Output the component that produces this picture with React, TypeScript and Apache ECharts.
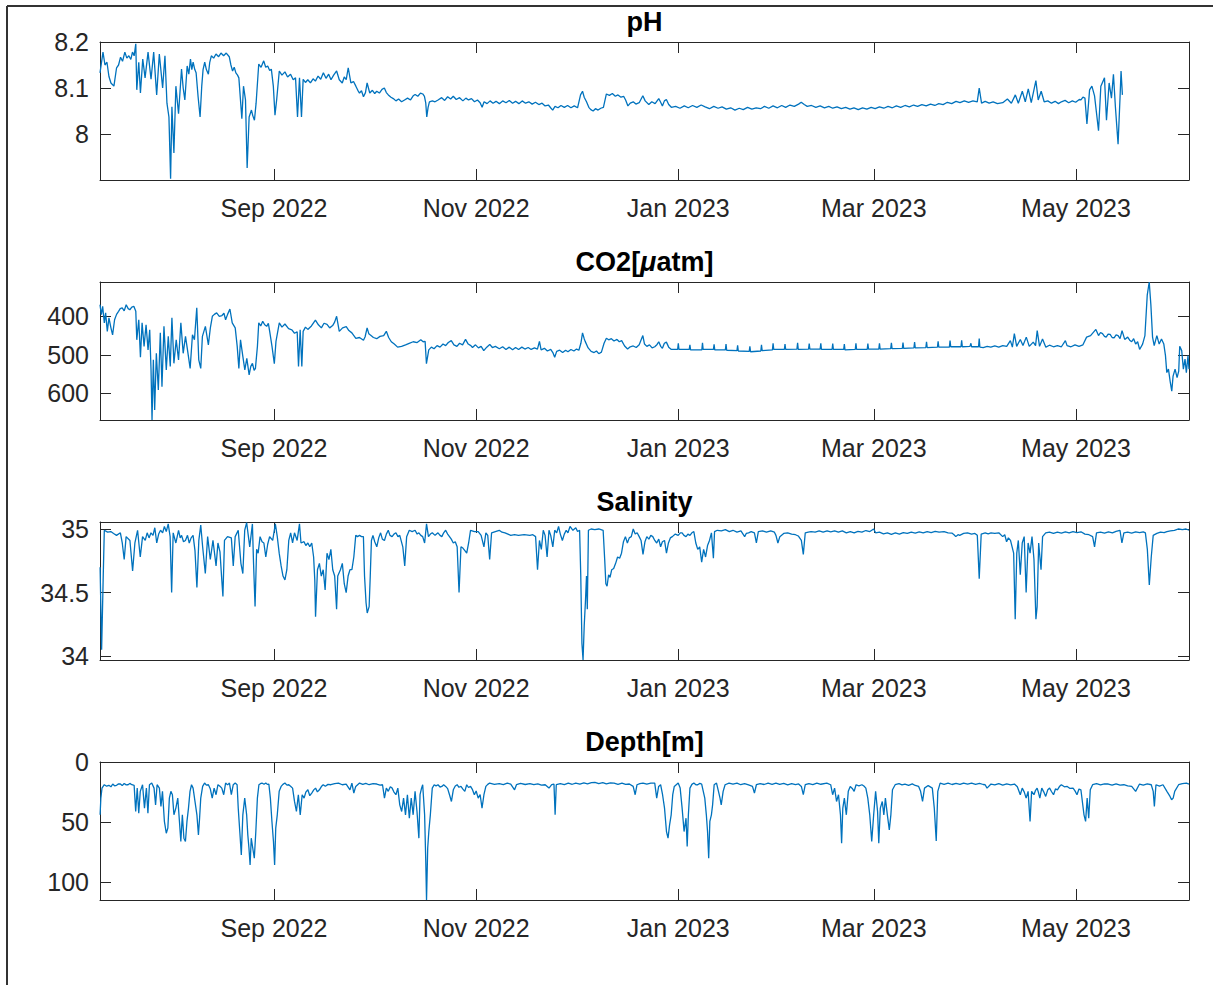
import React, { useEffect, useRef } from 'react';
import * as echarts from 'echarts';

// Time is stored as days elapsed since 2022-07-10 00:00 (deployment record)
const START_DATE = '2022-07-10';
const X_MIN = 0.5;
const X_MAX = 329.1;
const MONTH_TICKS = [53, 114, 175, 234, 295];
const MONTH_LABELS = ['Sep 2022', 'Nov 2022', 'Jan 2023', 'Mar 2023', 'May 2023'];

const TITLES = ['pH', 'CO2[μatm]', 'Salinity', 'Depth[m]'];

const PH_TICKS = [8, 8.1, 8.2];
const CO2_TICKS = [400, 500, 600];
const SAL_TICKS = [34, 34.5, 35];
const DEPTH_TICKS = [0, 50, 100];

const PH_RANGE: [number, number] = [7.9, 8.2];
const CO2_RANGE: [number, number] = [311, 669];
const SAL_RANGE: [number, number] = [33.97, 35.055];
const DEPTH_RANGE: [number, number] = [0, 114.7];

const phData: [number, number][] = [
  [0.5, 8.133], [1.4, 8.178], [2.0, 8.15], [2.6, 8.156], [3.2, 8.125], [3.8, 8.111], [4.7, 8.104], [5.5, 8.144], [6.1, 8.15],
  [6.7, 8.167], [7.3, 8.158], [8.0, 8.178], [8.6, 8.165], [9.2, 8.17], [9.8, 8.162], [10.3, 8.178], [10.8, 8.17], [11.3, 8.196],
  [11.6, 8.096], [12.2, 8.156], [12.7, 8.089], [13.4, 8.163], [14.1, 8.122], [15.0, 8.178], [15.9, 8.119], [16.7, 8.178],
  [17.6, 8.085], [18.4, 8.174], [19.4, 8.1], [20.1, 8.17], [20.7, 8.067], [21.3, 8.037], [21.8, 7.903], [22.2, 8.059],
  [22.8, 7.959], [23.4, 8.104], [24.2, 8.044], [25.1, 8.141], [25.6, 8.1], [26.1, 8.074], [26.8, 8.148], [27.3, 8.13],
  [27.8, 8.163], [28.2, 8.14], [28.6, 8.156], [29.1, 8.14], [29.5, 8.133], [30.1, 8.081], [30.7, 8.037], [31.2, 8.104],
  [31.6, 8.14], [32.1, 8.156], [32.6, 8.14], [33.2, 8.13], [33.6, 8.155], [34.1, 8.17], [34.8, 8.165], [35.5, 8.174],
  [36.3, 8.168], [37.0, 8.176], [37.8, 8.17], [38.6, 8.176], [39.5, 8.168], [40.0, 8.15], [40.5, 8.137], [41.0, 8.145],
  [41.5, 8.133], [42.0, 8.128], [42.4, 8.122], [43.3, 8.033], [43.8, 8.104], [44.4, 8.074], [44.9, 7.926], [45.5, 8.037],
  [46.2, 8.052], [46.6, 8.04], [47.1, 8.03], [47.6, 8.067], [48.4, 8.152], [49.1, 8.145], [49.9, 8.159], [50.5, 8.145],
  [51.1, 8.148], [51.7, 8.138], [52.2, 8.141], [52.8, 8.104], [53.3, 8.041], [53.8, 8.074], [54.6, 8.137], [55.4, 8.128],
  [56.3, 8.135], [57.1, 8.124], [58.0, 8.13], [58.8, 8.118], [59.5, 8.122], [60.1, 8.037], [60.7, 8.122], [61.3, 8.037],
  [61.8, 8.119], [62.5, 8.112], [63.2, 8.118], [64.0, 8.111], [64.8, 8.12], [65.5, 8.115], [66.3, 8.126], [67.1, 8.119],
  [67.9, 8.133], [68.7, 8.121], [69.5, 8.13], [70.2, 8.118], [71.0, 8.128], [71.9, 8.137], [72.7, 8.118], [73.6, 8.111],
  [74.2, 8.124], [74.8, 8.118], [75.4, 8.144], [76.2, 8.111], [77.0, 8.114], [77.7, 8.104], [78.3, 8.095], [78.8, 8.089],
  [79.4, 8.094], [80.0, 8.081], [80.6, 8.09], [81.1, 8.111], [81.5, 8.1], [81.9, 8.089], [82.7, 8.095], [83.4, 8.088],
  [84.0, 8.093], [84.8, 8.089], [85.6, 8.097], [86.3, 8.1], [86.9, 8.09], [87.5, 8.085], [88.3, 8.08], [89.0, 8.077],
  [89.8, 8.072], [90.6, 8.076], [91.5, 8.07], [92.4, 8.074], [93.3, 8.078], [94.2, 8.074], [95.0, 8.083], [95.6, 8.086],
  [96.4, 8.082], [97.2, 8.089], [97.9, 8.087], [98.4, 8.082], [98.8, 8.067], [99.1, 8.037], [99.5, 8.058], [99.9, 8.07],
  [100.8, 8.072], [101.6, 8.07], [102.5, 8.074], [103.6, 8.079], [104.5, 8.073], [105.4, 8.081], [106.3, 8.076], [107.1, 8.082],
  [108.0, 8.075], [109.0, 8.079], [110.0, 8.072], [110.9, 8.078], [111.7, 8.074], [112.6, 8.077], [113.5, 8.07], [114.4, 8.074],
  [115.2, 8.068], [115.8, 8.058], [116.4, 8.07], [117.3, 8.066], [118.2, 8.072], [119.1, 8.067], [120.0, 8.071], [121.0, 8.066],
  [122.0, 8.072], [123.0, 8.068], [124.0, 8.073], [125.0, 8.067], [125.9, 8.071], [126.9, 8.066], [127.9, 8.072], [128.9, 8.067],
  [129.9, 8.07], [130.9, 8.065], [131.9, 8.069], [132.9, 8.064], [133.9, 8.067], [134.8, 8.061], [135.8, 8.063], [136.6, 8.056],
  [137.1, 8.052], [137.8, 8.06], [138.7, 8.057], [139.6, 8.062], [140.6, 8.058], [141.6, 8.062], [142.6, 8.057], [143.6, 8.061],
  [144.6, 8.057], [145.5, 8.085], [146.1, 8.093], [146.6, 8.08], [147.3, 8.07], [148.0, 8.058], [148.6, 8.053], [149.3, 8.05],
  [150.0, 8.055], [150.8, 8.052], [151.6, 8.056], [152.4, 8.058], [153.3, 8.087], [154.2, 8.084], [155.1, 8.088], [156.0, 8.082],
  [156.8, 8.085], [157.7, 8.08], [158.5, 8.082], [159.1, 8.074], [159.8, 8.061], [160.5, 8.067], [161.4, 8.07], [162.2, 8.065],
  [163.2, 8.068], [164.3, 8.083], [165.0, 8.072], [166.1, 8.064], [167.0, 8.07], [168.0, 8.066], [169.1, 8.077], [169.6, 8.07],
  [170.2, 8.061], [170.8, 8.072], [171.4, 8.075], [172.1, 8.064], [172.9, 8.058], [174.2, 8.06], [175.5, 8.056], [176.8, 8.061],
  [178.0, 8.057], [179.3, 8.062], [180.6, 8.058], [181.9, 8.063], [183.1, 8.059], [184.4, 8.055], [185.7, 8.06], [187.0, 8.056],
  [188.2, 8.059], [189.5, 8.054], [190.8, 8.057], [192.1, 8.052], [193.4, 8.056], [194.6, 8.053], [195.9, 8.058], [197.2, 8.054],
  [198.5, 8.057], [199.8, 8.055], [201.0, 8.06], [202.3, 8.056], [203.6, 8.061], [204.9, 8.057], [206.2, 8.062], [207.4, 8.058],
  [208.7, 8.063], [210.0, 8.06], [211.3, 8.065], [212.1, 8.069], [213.0, 8.064], [213.9, 8.06], [215.2, 8.062], [216.5, 8.058],
  [217.8, 8.061], [219.1, 8.057], [220.4, 8.06], [221.6, 8.056], [222.9, 8.059], [224.2, 8.055], [225.5, 8.058], [226.8, 8.054],
  [228.0, 8.057], [229.3, 8.053], [230.6, 8.057], [231.9, 8.054], [233.2, 8.058], [234.4, 8.055], [235.7, 8.059], [237.0, 8.056],
  [238.3, 8.06], [239.6, 8.057], [240.8, 8.061], [242.1, 8.058], [243.4, 8.062], [244.7, 8.059], [246.0, 8.063], [247.2, 8.06],
  [248.5, 8.064], [249.8, 8.061], [251.1, 8.065], [252.4, 8.062], [253.6, 8.066], [254.9, 8.064], [256.2, 8.069], [257.5, 8.066],
  [258.8, 8.071], [260.0, 8.068], [261.3, 8.072], [262.6, 8.069], [263.9, 8.072], [265.2, 8.07], [265.8, 8.1], [266.5, 8.067],
  [267.6, 8.071], [268.8, 8.067], [270.0, 8.07], [271.3, 8.066], [272.9, 8.068], [274.3, 8.076], [275.5, 8.067], [276.7, 8.085],
  [277.6, 8.067], [278.8, 8.093], [279.7, 8.07], [280.6, 8.098], [281.5, 8.068], [282.9, 8.116], [283.6, 8.074], [284.5, 8.093],
  [285.4, 8.07], [286.5, 8.072], [287.6, 8.067], [288.7, 8.071], [289.7, 8.066], [290.6, 8.07], [291.7, 8.073], [292.8, 8.068],
  [293.9, 8.072], [294.9, 8.069], [296.0, 8.075], [296.5, 8.074], [297.1, 8.08], [297.7, 8.078], [298.3, 8.022], [299.1, 8.096],
  [299.8, 8.104], [300.6, 8.083], [301.8, 8.007], [302.5, 8.104], [303.6, 8.122], [304.2, 8.03], [305.0, 8.111], [305.7, 8.078],
  [306.3, 8.13], [306.9, 8.058], [307.7, 7.978], [308.3, 8.081], [308.6, 8.137], [309.0, 8.085],
];

const co2Data: [number, number][] = [
  [0.5, 370], [0.9, 396], [1.3, 374], [1.8, 417], [2.2, 391], [2.7, 439], [3.2, 404], [3.8, 430], [4.3, 448], [4.9, 409],
  [5.5, 395], [6.1, 387], [6.6, 380], [7.2, 378], [7.8, 386], [8.4, 370], [9.0, 380], [9.5, 383], [10.1, 376], [10.7, 374],
  [11.3, 387], [11.6, 461], [12.2, 409], [12.7, 506], [13.2, 417], [13.8, 478], [14.4, 422], [15.0, 487], [15.5, 435], [15.9, 539],
  [16.2, 669], [16.6, 513], [17.0, 643], [17.5, 496], [18.1, 591], [18.7, 443], [19.2, 583], [19.8, 426], [20.5, 539], [21.1, 452],
  [21.7, 530], [22.2, 404], [22.8, 522], [23.5, 461], [24.2, 513], [24.9, 417], [25.6, 496], [26.3, 452], [26.9, 487], [27.7, 535],
  [28.4, 448], [29.0, 461], [29.7, 378], [30.3, 513], [30.9, 535], [31.4, 452], [32.3, 426], [33.2, 474], [33.8, 430], [34.4, 400],
  [35.0, 395], [35.7, 391], [36.5, 400], [37.3, 398], [37.9, 392], [38.4, 409], [39.0, 395], [39.7, 381], [40.4, 417], [41.3, 430],
  [41.9, 478], [42.4, 535], [42.9, 461], [43.6, 504], [44.2, 539], [44.8, 509], [45.5, 552], [46.0, 530], [46.5, 522], [47.0, 540],
  [47.4, 535], [48.0, 478], [48.4, 417], [49.0, 425], [49.6, 413], [50.2, 422], [50.8, 426], [51.3, 418], [51.7, 439], [52.4, 478],
  [53.1, 523], [53.6, 465], [54.6, 417], [55.4, 428], [56.3, 420], [57.4, 432], [58.4, 435], [59.2, 444], [60.0, 440], [60.4, 530],
  [60.9, 435], [61.4, 530], [61.8, 439], [62.5, 428], [63.2, 434], [64.3, 425], [65.5, 410], [66.4, 422], [67.3, 430], [68.1, 418],
  [69.0, 421], [69.8, 430], [70.7, 424], [71.3, 415], [71.9, 400], [72.7, 439], [73.7, 430], [74.8, 427], [75.6, 437], [76.5, 443],
  [77.1, 450], [77.7, 457], [78.8, 455], [80.0, 462], [80.5, 453], [81.1, 430], [81.6, 445], [82.0, 448], [83.0, 455], [84.0, 458],
  [85.0, 452], [86.1, 450], [86.9, 439], [87.6, 455], [88.4, 466], [89.3, 472], [90.3, 480], [91.5, 478], [92.7, 474], [93.8, 470],
  [95.0, 466], [96.2, 468], [97.3, 461], [98.0, 466], [98.6, 465], [99.0, 523], [99.7, 487], [100.5, 480], [101.3, 484], [102.2, 476],
  [103.1, 480], [104.0, 472], [104.8, 476], [105.6, 468], [106.5, 463], [107.3, 474], [108.2, 478], [109.0, 470], [109.9, 474],
  [110.8, 460], [111.6, 472], [112.4, 476], [112.9, 481], [113.8, 474], [114.7, 482], [115.5, 478], [116.3, 489], [117.2, 480],
  [118.1, 473], [118.9, 481], [119.8, 478], [121.0, 484], [122.0, 479], [123.0, 486], [124.0, 480], [125.0, 487], [125.9, 481],
  [126.8, 486], [127.8, 480], [128.7, 485], [129.7, 481], [130.6, 486], [131.6, 482], [132.5, 485], [133.1, 465], [133.6, 487],
  [134.6, 483], [135.5, 490], [136.5, 486], [137.2, 495], [137.7, 506], [138.3, 491], [139.2, 488], [140.1, 494], [141.0, 488],
  [141.7, 492], [142.6, 486], [143.5, 490], [144.3, 485], [145.0, 488], [145.6, 470], [146.1, 443], [146.6, 458], [146.9, 465],
  [147.8, 482], [148.7, 491], [149.6, 494], [150.3, 490], [151.0, 497], [151.8, 493], [152.6, 470], [153.3, 457], [154.0, 461],
  [154.8, 458], [155.6, 464], [156.5, 460], [157.2, 466], [157.9, 463], [158.8, 477], [159.7, 485], [160.5, 479], [161.4, 477],
  [162.3, 481], [163.2, 474], [164.3, 450], [164.8, 472], [165.5, 478], [166.3, 474], [167.1, 482], [167.9, 479], [168.6, 473],
  [169.1, 466], [169.7, 478], [170.2, 483], [170.8, 470], [171.4, 467], [172.1, 480], [172.9, 486],
  [174.8, 486], [175.0, 470], [175.2, 486], [178.3, 486], [178.5, 474], [178.7, 487], [182.1, 487], [182.3, 469], [182.5, 486],
  [185.6, 486], [185.8, 473], [186.0, 487], [189.2, 487], [189.4, 472], [189.6, 488], [192.7, 489], [192.9, 475], [193.1, 490],
  [196.4, 491], [196.6, 478], [196.8, 492], [199.9, 490], [200.1, 474], [200.3, 489], [203.4, 487], [203.6, 470], [203.8, 486],
  [207.0, 486], [207.2, 472], [207.4, 486], [210.8, 485], [211.0, 469], [211.2, 486], [214.3, 485], [214.5, 471], [214.7, 485],
  [217.8, 485], [218.0, 470], [218.2, 486], [221.4, 486], [221.6, 471], [221.8, 486], [224.9, 486], [225.1, 472], [225.3, 487],
  [228.4, 486], [228.6, 470], [228.8, 486], [232.0, 486], [232.2, 471], [232.4, 485], [235.5, 485], [235.7, 470], [235.9, 485],
  [239.1, 484], [239.3, 469], [239.5, 484], [242.6, 483], [242.8, 468], [243.0, 483], [246.1, 482], [246.3, 467], [246.5, 482],
  [249.7, 481], [249.9, 466], [250.1, 481], [253.2, 480], [253.4, 465], [253.6, 480], [256.8, 480], [257.0, 463], [257.2, 479],
  [260.3, 479], [260.5, 462], [260.7, 479], [263.0, 478], [263.3, 470], [263.5, 479], [265.6, 479], [265.8, 458], [266.0, 480],
  [267.0, 481], [268.2, 478], [269.3, 480], [270.5, 477], [271.7, 480], [272.9, 476], [274.1, 478], [275.2, 463], [275.8, 480],
  [276.4, 445], [277.1, 478], [278.2, 460], [279.0, 476], [280.0, 454], [280.9, 478], [282.1, 467], [282.8, 476], [283.3, 437],
  [284.0, 478], [284.9, 459], [285.9, 480], [287.0, 475], [288.2, 479], [289.4, 476], [290.6, 479], [291.8, 463], [292.3, 476],
  [293.5, 479], [294.7, 474], [295.9, 478], [297.1, 474], [298.2, 454], [299.4, 450], [300.3, 441], [301.0, 434], [301.8, 450],
  [302.4, 442], [303.0, 445], [303.6, 452], [304.1, 454], [304.7, 446], [305.3, 447], [305.9, 455], [306.5, 456], [307.1, 448],
  [307.7, 450], [308.3, 458], [308.9, 437], [309.7, 460], [310.6, 454], [311.2, 462], [311.8, 466], [312.4, 458], [313.0, 472],
  [313.6, 466], [314.2, 486], [315.1, 472], [315.8, 450], [316.5, 345], [317.1, 311], [317.6, 371], [318.1, 454], [318.6, 476],
  [319.4, 450], [320.1, 472], [320.8, 459], [321.5, 472], [322.0, 502], [322.4, 546], [322.9, 537], [323.4, 568], [323.9, 594],
  [324.3, 555], [324.9, 537], [325.5, 559], [326.0, 542], [326.3, 478], [326.9, 489], [327.4, 537], [327.9, 511], [328.3, 546],
  [328.8, 502], [329.1, 537],
];

const salinityData: [number, number][] = [
  [0.53, 34.7], [0.99, 34.05], [1.45, 34.6], [1.8, 34.99], [2.8, 34.975], [3.76, 34.98], [4.6, 34.965], [5.49, 34.95], [6.65, 34.97],
  [7.22, 34.89], [7.8, 34.76], [8.38, 34.94], [9.53, 34.91], [10.34, 34.67], [11.03, 34.89], [11.84, 34.99], [12.65, 34.78],
  [13.34, 34.94], [14.15, 34.91], [14.73, 34.97], [15.3, 34.93], [15.88, 34.97], [16.5, 34.95], [17.04, 35.01], [17.62, 34.89],
  [18.2, 34.96], [18.77, 34.99], [19.4, 34.97], [19.93, 35.02], [20.5, 34.98], [21.08, 35.04], [21.66, 34.94], [22.12, 34.5],
  [22.58, 34.97], [23.39, 34.89], [24.2, 34.99], [24.7, 34.93], [25.12, 34.95], [25.7, 34.9], [26.28, 34.91], [26.9, 34.95],
  [27.43, 34.89], [28.0, 34.93], [28.59, 34.95], [29.16, 34.83], [29.74, 34.54], [30.32, 34.91], [30.9, 35.03], [31.47, 34.86],
  [32.28, 34.65], [32.98, 34.94], [33.78, 34.76], [34.59, 34.91], [35.52, 34.71], [36.09, 34.89], [36.7, 34.82], [37.25, 34.6],
  [37.59, 34.47], [38.06, 34.91], [38.98, 34.94], [40.13, 34.93], [40.71, 34.71], [41.29, 34.94], [42.21, 34.99], [43.02, 34.73],
  [43.6, 34.65], [44.17, 34.99], [44.75, 35.05], [45.68, 34.86], [46.49, 35.04], [46.83, 34.73], [47.29, 34.39], [47.76, 34.84],
  [48.22, 34.81], [48.8, 34.94], [49.4, 34.9], [49.95, 34.89], [50.53, 34.78], [51.1, 34.88], [51.68, 34.94], [52.61, 34.91],
  [53.41, 35.04], [53.99, 34.94], [54.57, 34.81], [55.15, 34.71], [55.72, 34.63], [56.3, 34.6], [56.88, 34.68], [57.46, 34.91],
  [58.03, 34.97], [58.61, 34.89], [59.19, 34.97], [59.99, 34.91], [60.69, 35.04], [61.15, 34.89], [62.07, 34.9], [62.6, 34.87],
  [63.23, 34.89], [63.8, 34.86], [64.39, 34.89], [64.96, 34.78], [65.31, 34.6], [65.54, 34.31], [66.12, 34.68], [66.7, 34.73],
  [67.27, 34.63], [67.85, 34.68], [68.43, 34.52], [69.0, 34.81], [69.58, 34.76], [70.16, 34.84], [70.73, 34.68], [71.31, 34.63],
  [71.89, 34.37], [72.24, 34.63], [73.05, 34.68], [73.62, 34.73], [74.2, 34.57], [74.78, 34.5], [75.36, 34.63], [75.93, 34.68],
  [76.51, 34.68], [77.09, 34.78], [77.67, 34.95], [78.2, 34.94], [78.82, 34.95], [79.4, 34.94], [79.98, 34.94], [80.32, 34.63],
  [80.78, 34.42], [81.13, 34.34], [81.71, 34.39], [82.05, 34.63], [82.4, 34.91], [82.86, 34.95], [83.4, 34.9], [84.02, 34.86],
  [84.6, 34.93], [85.17, 34.97], [85.7, 34.92], [86.33, 34.91], [86.9, 34.96], [87.48, 34.99], [88.0, 34.95], [88.64, 34.94],
  [89.2, 34.96], [89.79, 34.97], [90.4, 34.94], [90.95, 34.95], [91.87, 34.86], [92.45, 34.71], [93.03, 34.94], [93.83, 34.99],
  [94.7, 34.98], [95.57, 34.99], [96.2, 34.96], [96.72, 34.97], [97.3, 34.95], [97.87, 34.94], [98.45, 34.89], [99.03, 35.04],
  [99.61, 34.94], [100.2, 34.96], [100.76, 34.97], [101.6, 34.95], [102.49, 34.97], [103.1, 34.95], [103.65, 34.94], [104.2, 34.97],
  [104.8, 34.99], [105.4, 34.96], [105.96, 34.94], [106.5, 34.92], [107.11, 34.89], [107.7, 34.9], [108.27, 34.86], [108.84, 34.5],
  [109.42, 34.86], [110.0, 34.85], [110.6, 34.83], [111.15, 34.81], [111.73, 34.89], [112.31, 34.99], [113.5, 34.98], [114.62, 34.98],
  [115.5, 34.95], [116.35, 34.86], [116.93, 34.97], [117.5, 34.95], [118.08, 34.76], [118.66, 34.97], [119.8, 34.98], [120.97, 34.99],
  [121.8, 34.975], [122.7, 34.97], [123.6, 34.96], [124.43, 34.95], [125.6, 34.955], [126.75, 34.95], [128.5, 34.955], [130.21, 34.95],
  [131.1, 34.955], [131.94, 34.94], [132.52, 34.68], [133.1, 34.91], [133.67, 34.84], [134.25, 34.99], [134.8, 34.95], [135.41, 34.78],
  [135.98, 34.99], [136.5, 34.95], [137.14, 34.86], [137.71, 34.99], [138.3, 34.97], [138.87, 35.02], [139.4, 34.96], [140.02, 34.91],
  [140.6, 34.96], [141.18, 34.99], [141.7, 34.97], [142.33, 35.02], [143.2, 34.99], [144.07, 35.01], [144.6, 34.98], [145.22, 34.99],
  [145.57, 34.63], [145.92, 34.1], [146.26, 33.97], [146.61, 34.24], [146.96, 34.42], [147.3, 34.63], [147.54, 34.37], [147.88, 34.99],
  [148.69, 35.0], [149.8, 34.995], [151.0, 35.0], [152.32, 34.99], [152.79, 34.76], [153.14, 34.57], [153.5, 34.55], [153.97, 34.64],
  [154.4, 34.62], [154.91, 34.68], [155.5, 34.69], [156.09, 34.73], [156.68, 34.78], [157.3, 34.77], [157.86, 34.81], [158.45, 34.9],
  [159.04, 34.94], [159.63, 34.89], [160.2, 34.93], [160.81, 34.94], [161.4, 35.0], [162.0, 34.96], [162.58, 34.97], [163.2, 34.94],
  [163.76, 34.91], [164.35, 34.8], [164.94, 34.9], [165.5, 34.94], [166.12, 34.92], [166.7, 34.95], [167.3, 34.94], [167.9, 34.91],
  [168.48, 34.89], [169.1, 34.92], [169.66, 34.86], [170.2, 34.9], [170.84, 34.91], [171.43, 34.81], [172.02, 34.89], [172.6, 34.93],
  [173.2, 34.94], [174.1, 34.96], [174.97, 34.95], [175.6, 34.97], [176.15, 34.97], [176.7, 34.95], [177.33, 34.94], [177.9, 34.96],
  [178.51, 34.95], [179.1, 34.97], [179.69, 34.98], [180.28, 34.89], [180.87, 34.84], [181.46, 34.86], [182.05, 34.74], [182.64, 34.84],
  [183.23, 34.78], [183.82, 34.87], [184.41, 34.91], [185.0, 34.97], [185.59, 34.77], [185.94, 34.98], [186.77, 34.99], [188.0, 34.985],
  [189.2, 34.995], [190.4, 34.98], [191.49, 34.99], [192.7, 34.975], [193.9, 34.985], [195.02, 34.94], [195.5, 34.965], [196.2, 34.97],
  [197.0, 34.98], [197.97, 34.97], [198.56, 34.89], [199.15, 34.98], [200.4, 34.985], [201.6, 34.975], [202.9, 34.985], [204.0, 34.975],
  [204.46, 34.95], [205.05, 34.89], [205.64, 34.94], [206.8, 34.965], [208.0, 34.97], [209.2, 34.96], [210.36, 34.955], [211.2, 34.945],
  [212.13, 34.91], [212.72, 34.8], [213.31, 34.97], [214.2, 34.975], [215.08, 34.98], [216.3, 34.975], [217.5, 34.985], [218.7, 34.975],
  [219.9, 34.985], [221.0, 34.978], [222.16, 34.985], [223.3, 34.975], [224.5, 34.985], [225.7, 34.97], [226.9, 34.98], [228.06, 34.97],
  [229.2, 34.982], [230.4, 34.975], [231.6, 34.988], [232.8, 34.98], [233.95, 35.0], [234.54, 34.97], [235.7, 34.975], [236.9, 34.962],
  [238.1, 34.97], [239.3, 34.958], [240.5, 34.97], [241.7, 34.96], [242.9, 34.972], [244.1, 34.965], [245.3, 34.975], [246.5, 34.968],
  [247.7, 34.978], [248.9, 34.97], [250.1, 34.98], [251.3, 34.972], [252.5, 34.982], [253.7, 34.975], [255.19, 34.98], [256.4, 34.97],
  [257.55, 34.968], [258.2, 34.955], [258.73, 34.94], [259.4, 34.955], [259.91, 34.95], [261.1, 34.965], [262.27, 34.97], [263.5, 34.96],
  [264.5, 34.965], [265.22, 34.95], [265.8, 34.61], [266.4, 34.96], [267.6, 34.97], [268.5, 34.962], [269.35, 34.97], [270.5, 34.965],
  [271.71, 34.97], [272.88, 34.94], [273.5, 34.955], [274.06, 34.9], [274.6, 34.93], [275.24, 34.91], [276.19, 34.81], [276.66, 34.29],
  [277.13, 34.81], [277.6, 34.91], [278.19, 34.64], [278.78, 34.89], [279.37, 34.94], [279.96, 34.5], [280.55, 34.89], [281.14, 34.81],
  [281.73, 34.94], [282.32, 34.76], [282.91, 34.29], [283.27, 34.39], [283.74, 34.89], [284.45, 34.68], [284.92, 34.94], [285.86, 34.97],
  [287.0, 34.975], [288.2, 34.965], [289.4, 34.975], [290.6, 34.968], [291.8, 34.978], [292.94, 34.97], [294.1, 34.98], [295.3, 34.972],
  [296.5, 34.978], [297.7, 34.96], [298.9, 34.955], [300.02, 34.94], [300.6, 34.86], [301.19, 34.97], [302.4, 34.975], [303.6, 34.968],
  [304.8, 34.978], [306.0, 34.97], [307.1, 34.982], [308.27, 34.99], [308.86, 34.89], [309.45, 34.97], [310.6, 34.975], [311.8, 34.968],
  [313.0, 34.978], [314.2, 34.972], [315.3, 34.978], [315.94, 34.97], [316.53, 34.84], [317.12, 34.56], [317.71, 34.78], [318.3, 34.95],
  [319.4, 34.965], [320.5, 34.975], [321.6, 34.972], [322.43, 34.98], [323.5, 34.985], [324.7, 34.99], [325.97, 35.0], [327.1, 34.995],
  [328.2, 35.0], [329.1, 34.99],
];

const depthData: [number, number][] = [
  [0.53, 43.9], [0.76, 30.0], [1.1, 21.7], [1.8, 18.9], [2.5, 20.1], [3.18, 19.4], [3.8, 20.6], [4.34, 18.3], [4.9, 19.8],
  [5.49, 19.4], [6.1, 18.2], [6.65, 18.3], [7.2, 19.6], [7.8, 17.9], [8.4, 19.0], [8.96, 18.9], [9.5, 17.8], [10.11, 18.9],
  [10.8, 19.4], [11.27, 41.1], [11.73, 21.7], [12.19, 42.5], [12.65, 24.4], [13.34, 18.9], [13.92, 38.3], [14.5, 21.7],
  [14.96, 42.5], [15.42, 18.9], [16.11, 17.5], [16.81, 21.7], [17.27, 35.6], [17.73, 18.9], [18.42, 21.7], [18.89, 36.9],
  [19.35, 24.4], [19.93, 49.4], [20.5, 59.2], [20.97, 55.0], [21.43, 30.0], [21.89, 24.4], [22.35, 27.2], [22.81, 43.9],
  [23.39, 38.3], [23.97, 30.0], [24.54, 52.2], [24.89, 66.1], [25.35, 43.9], [25.82, 63.3], [26.28, 66.1], [26.74, 49.4],
  [27.2, 38.3], [27.66, 24.4], [28.12, 18.9], [28.59, 21.7], [29.16, 32.8], [29.74, 43.9], [30.2, 60.6], [30.55, 46.7],
  [30.9, 30.0], [31.47, 20.3], [32.05, 17.5], [32.6, 19.2], [33.21, 18.9], [33.8, 22.5], [34.36, 30.0], [34.94, 21.7],
  [35.52, 27.2], [36.09, 18.9], [36.7, 20.2], [37.25, 21.7], [37.83, 27.2], [38.4, 17.5], [39.0, 19.0], [39.56, 17.5],
  [40.13, 27.2], [40.71, 18.9], [41.29, 17.5], [41.87, 18.9], [42.21, 38.3], [42.68, 57.8], [43.14, 77.2], [43.6, 43.9],
  [44.17, 30.0], [44.75, 43.9], [45.1, 60.6], [45.45, 71.7], [45.79, 85.6], [46.14, 63.3], [46.6, 71.7], [47.06, 80.0],
  [47.52, 57.8], [47.99, 30.0], [48.45, 18.9], [48.9, 18.0], [49.37, 17.5], [50.0, 18.5], [50.53, 17.5], [51.0, 18.6],
  [51.45, 18.3], [51.91, 30.0], [52.38, 49.4], [52.84, 66.1], [53.19, 85.6], [53.53, 55.0], [53.99, 43.9], [54.57, 24.4],
  [55.15, 20.3], [55.7, 18.6], [56.3, 17.5], [56.9, 19.2], [57.46, 18.9], [58.0, 20.1], [58.61, 21.7], [59.19, 32.8],
  [59.77, 41.1], [60.35, 27.2], [60.92, 43.9], [61.5, 27.2], [62.08, 30.0], [62.6, 25.1], [63.23, 23.1], [63.8, 28.0],
  [64.39, 25.8], [65.0, 23.2], [65.54, 21.7], [66.1, 24.8], [66.7, 23.1], [67.3, 20.4], [67.85, 18.9], [68.5, 20.2],
  [69.3, 18.6], [70.16, 18.9], [71.3, 18.0], [72.47, 17.5], [73.6, 18.9], [74.78, 18.3], [75.93, 23.1], [76.51, 17.5],
  [77.09, 25.8], [77.67, 20.3], [78.82, 17.5], [79.8, 18.6], [80.7, 17.8], [81.71, 18.9], [82.9, 18.0], [84.02, 18.3],
  [85.0, 19.2], [85.75, 18.9], [86.33, 30.0], [86.9, 21.7], [87.48, 24.4], [88.1, 20.5], [88.64, 21.7], [89.2, 25.0],
  [89.79, 27.2], [90.37, 21.7], [90.95, 35.6], [91.53, 41.1], [92.1, 30.0], [92.68, 43.9], [93.26, 27.2], [93.84, 46.7],
  [94.41, 30.0], [94.99, 43.9], [95.57, 24.4], [96.15, 41.1], [96.72, 63.3], [97.07, 27.2], [97.53, 21.7], [97.87, 18.9],
  [98.45, 43.9], [98.8, 82.8], [99.03, 114.7], [99.38, 71.7], [99.72, 57.8], [100.18, 43.9], [100.76, 21.7], [101.34, 18.9],
  [101.9, 19.8], [102.49, 18.9], [103.1, 20.8], [103.65, 20.3], [104.2, 19.0], [104.8, 20.3], [105.4, 22.1], [105.96, 27.2],
  [106.54, 32.8], [107.11, 23.1], [107.7, 20.0], [108.27, 18.9], [108.8, 21.0], [109.42, 20.3], [110.0, 22.6], [110.58, 24.4],
  [111.15, 18.9], [111.7, 21.2], [112.31, 20.3], [112.9, 23.0], [113.46, 27.2], [114.0, 24.1], [114.62, 30.0], [115.2, 27.0],
  [115.77, 38.3], [116.35, 27.2], [116.93, 20.3], [117.5, 18.6], [118.08, 17.5], [119.5, 18.6], [120.97, 17.9], [122.2, 18.8],
  [123.4, 17.6], [124.43, 18.3], [125.59, 23.1], [126.17, 18.9], [127.4, 17.8], [128.8, 18.7], [130.21, 17.9], [131.4, 18.9],
  [132.6, 18.1], [133.7, 19.2], [134.83, 18.9], [135.98, 21.7], [136.8, 18.8], [137.48, 18.3], [137.83, 43.9], [138.18, 18.9],
  [139.4, 18.0], [140.6, 18.8], [141.8, 17.6], [143.0, 18.5], [144.07, 17.5], [145.3, 18.4], [146.5, 17.4], [147.6, 18.2],
  [148.8, 17.2], [149.84, 16.9], [151.0, 18.0], [152.2, 17.1], [153.3, 18.2], [154.5, 17.3], [155.62, 17.5], [156.8, 18.5],
  [158.0, 17.6], [159.1, 18.6], [160.23, 18.3], [161.38, 20.3], [161.99, 27.2], [162.54, 18.9], [163.4, 18.0], [164.35, 17.5],
  [165.5, 18.4], [166.7, 17.6], [167.89, 17.5], [168.48, 30.0], [169.07, 20.3], [169.66, 18.9], [170.25, 27.2], [170.84, 38.3],
  [171.43, 57.8], [171.9, 63.3], [172.37, 52.2], [172.85, 43.9], [173.32, 27.2], [173.79, 20.3], [174.38, 18.9], [174.97, 17.5],
  [175.56, 21.7], [176.15, 38.3], [176.74, 57.8], [177.33, 46.7], [177.68, 70.3], [178.04, 43.9], [178.51, 21.7], [179.1, 18.6],
  [179.69, 17.5], [180.3, 19.0], [180.87, 18.9], [181.5, 17.8], [182.05, 18.3], [182.99, 30.0], [183.46, 43.9], [183.82, 57.8],
  [184.17, 80.0], [184.52, 49.4], [184.99, 43.9], [185.35, 35.6], [185.82, 18.9], [186.53, 17.5], [187.12, 24.4], [187.59, 30.0],
  [187.95, 35.6], [188.53, 24.4], [189.12, 18.9], [190.31, 17.5], [191.5, 18.4], [192.7, 17.6], [193.84, 18.9], [195.0, 18.0],
  [196.2, 19.1], [197.38, 20.3], [197.97, 25.8], [198.56, 18.9], [199.7, 17.9], [200.9, 18.7], [202.1, 17.6], [203.3, 18.5],
  [204.46, 17.5], [205.6, 18.6], [206.8, 17.8], [208.0, 19.0], [209.2, 18.0], [210.36, 18.9], [211.3, 18.2], [212.13, 20.3],
  [212.72, 27.2], [213.31, 18.9], [214.4, 17.9], [215.6, 18.8], [216.8, 17.6], [218.0, 18.5], [219.8, 17.5], [220.98, 18.9],
  [221.57, 27.2], [222.16, 21.7], [222.75, 32.8], [223.34, 27.2], [223.93, 43.9], [224.28, 67.5], [224.64, 38.3], [225.11, 30.0],
  [225.7, 43.9], [226.29, 24.4], [226.88, 20.3], [227.5, 22.0], [228.06, 24.4], [228.64, 18.9], [229.5, 19.8], [230.41, 18.9],
  [231.0, 20.0], [231.59, 21.7], [232.18, 30.0], [232.77, 43.9], [233.36, 66.1], [233.95, 43.9], [234.54, 24.4], [235.13, 41.1],
  [235.49, 67.5], [235.96, 38.3], [236.55, 32.8], [237.02, 43.9], [237.49, 30.0], [238.08, 43.9], [238.67, 56.4], [239.14, 43.9],
  [239.62, 23.1], [240.44, 18.9], [241.6, 18.0], [242.5, 19.0], [243.39, 18.3], [244.5, 19.4], [245.6, 18.2], [246.5, 19.5],
  [247.52, 20.3], [248.11, 24.4], [248.7, 32.8], [249.29, 21.7], [250.4, 19.6], [251.65, 21.7], [252.24, 38.3], [252.83, 65.6],
  [253.3, 24.4], [254.01, 17.5], [255.2, 18.5], [256.4, 17.6], [257.6, 18.7], [258.8, 17.8], [260.0, 18.6], [261.09, 17.5],
  [262.3, 18.4], [263.5, 17.5], [264.7, 18.6], [265.9, 17.8], [267.0, 18.7], [267.58, 18.9], [268.16, 21.7], [269.35, 18.3],
  [270.5, 19.1], [271.7, 18.0], [272.9, 19.2], [274.1, 18.2], [275.3, 19.0], [276.43, 18.3], [277.3, 20.5], [278.19, 27.2],
  [278.78, 21.7], [279.4, 25.0], [279.96, 30.0], [280.55, 24.4], [281.14, 49.4], [281.61, 24.4], [282.32, 27.2], [282.8, 23.5],
  [283.27, 21.7], [283.7, 25.6], [284.09, 30.0], [284.68, 21.7], [285.3, 25.0], [285.86, 28.6], [286.5, 23.0], [287.04, 21.7],
  [287.6, 24.5], [288.22, 27.2], [288.8, 22.4], [289.4, 23.1], [290.0, 20.4], [290.58, 18.9], [291.5, 20.6], [292.35, 20.3],
  [293.2, 22.0], [294.12, 21.7], [294.7, 24.0], [295.3, 27.2], [295.9, 22.5], [296.48, 23.1], [297.42, 43.9], [297.9, 49.4],
  [298.37, 30.0], [298.84, 46.7], [299.31, 23.1], [300.02, 18.9], [301.2, 18.0], [302.4, 19.0], [303.6, 18.1], [304.74, 18.3],
  [305.9, 19.3], [307.1, 18.2], [308.3, 19.2], [309.45, 18.9], [310.6, 19.8], [311.81, 20.3], [313.0, 24.4], [314.17, 18.3],
  [315.3, 19.2], [316.5, 18.2], [317.71, 18.9], [318.3, 24.4], [318.65, 36.9], [319.13, 18.9], [320.2, 20.0], [321.25, 18.9],
  [322.43, 24.4], [323.37, 28.6], [323.85, 31.4], [324.32, 30.0], [324.79, 24.4], [325.97, 18.9], [327.1, 18.0], [328.33, 17.5],
  [329.1, 18.3],
];

const FONT = "'Liberation Sans', Arial, Helvetica, sans-serif";
const AXIS_COLOR = '#262626';
const LINE_COLOR = '#0072BD';

const PANEL_TOPS = [42, 282, 522, 762];
const PANEL_LEFT = 100;
const PANEL_WIDTH = 1089;
const PANEL_HEIGHT = 138;

const panels = [
  { data: phData, ticks: PH_TICKS, range: PH_RANGE, inverse: false },
  { data: co2Data, ticks: CO2_TICKS, range: CO2_RANGE, inverse: true },
  { data: salinityData, ticks: SAL_TICKS, range: SAL_RANGE, inverse: false },
  { data: depthData, ticks: DEPTH_TICKS, range: DEPTH_RANGE, inverse: true },
];

function buildOption() {
  const grid: any[] = [];
  const xAxis: any[] = [];
  const yAxis: any[] = [];
  const series: any[] = [];
  const graphic: any[] = [];
  const lineStyle = { color: AXIS_COLOR, width: 1 };

  panels.forEach((p, i) => {
    grid.push({ left: PANEL_LEFT, top: PANEL_TOPS[i], width: PANEL_WIDTH, height: PANEL_HEIGHT, containLabel: false });
    ['bottom', 'top'].forEach((pos) => {
      xAxis.push({
        gridIndex: i,
        type: 'value',
        position: pos,
        min: X_MIN,
        max: X_MAX,
        axisLine: { show: true, onZero: false, lineStyle },
        axisTick: { show: true, inside: true, length: 11, customValues: MONTH_TICKS, lineStyle },
        axisLabel: {
          show: pos === 'bottom',
          customValues: MONTH_TICKS,
          formatter: (v: number) => {
            const k = MONTH_TICKS.indexOf(Math.round(v));
            return k >= 0 ? MONTH_LABELS[k] : '';
          },
          margin: 15,
          color: AXIS_COLOR,
          fontSize: 25,
          fontFamily: FONT,
        },
        splitLine: { show: false },
      });
    });
    ['left', 'right'].forEach((pos) => {
      yAxis.push({
        gridIndex: i,
        type: 'value',
        position: pos,
        min: p.range[0],
        max: p.range[1],
        inverse: p.inverse,
        axisLine: { show: true, onZero: false, lineStyle },
        axisTick: { show: true, inside: true, length: 11, customValues: p.ticks, lineStyle },
        axisLabel: {
          show: pos === 'left',
          customValues: p.ticks,
          formatter: (v: number) => String(v),
          margin: 11,
          color: AXIS_COLOR,
          fontSize: 25,
          fontFamily: FONT,
        },
        splitLine: { show: false },
      });
    });
    series.push({
      type: 'line',
      name: TITLES[i],
      xAxisIndex: i * 2,
      yAxisIndex: i * 2,
      data: p.data,
      showSymbol: false,
      symbol: 'none',
      clip: true,
      silent: true,
      lineStyle: { color: LINE_COLOR, width: 1.3 },
    });

    const titleY = PANEL_TOPS[i] - 20;
    const rich = {
      b: { fontSize: 27, fontWeight: 'bold', fontFamily: FONT, fill: '#000' },
      i: { fontSize: 27, fontWeight: 'bold', fontStyle: 'italic', fontFamily: FONT, fill: '#000' },
    };
    const text = TITLES[i].includes('μ')
      ? TITLES[i].split('μ').map((s) => `{b|${s}}`).join('{i|μ}')
      : `{b|${TITLES[i]}}`;
    graphic.push({
      type: 'text',
      x: PANEL_LEFT + PANEL_WIDTH / 2,
      y: titleY,
      style: {
        text,
        rich,
        align: 'center',
        verticalAlign: 'middle',
        textAlign: 'center',
        textVerticalAlign: 'middle',
      },
    });
  });

  graphic.push({ type: 'line', shape: { x1: 7, y1: 6, x2: 1213, y2: 6 }, style: { stroke: '#333', lineWidth: 2 } });
  graphic.push({ type: 'line', shape: { x1: 7, y1: 6, x2: 7, y2: 985 }, style: { stroke: '#333', lineWidth: 2 } });

  return {
    animation: false,
    backgroundColor: '#ffffff',
    textStyle: { fontFamily: FONT },
    grid,
    xAxis,
    yAxis,
    series,
    graphic,
  };
}

export default function App() {
  const ref = useRef<HTMLDivElement>(null);
  useEffect(() => {
    if (!ref.current) return;
    const chart = echarts.init(ref.current, undefined, { renderer: 'svg' });
    chart.setOption(buildOption() as any);
    return () => chart.dispose();
  }, []);
  return (
    <div
      ref={ref}
      data-start={START_DATE}
      style={{ position: 'absolute', left: 0, top: 0, width: 1213, height: 985, background: '#fff' }}
    />
  );
}
